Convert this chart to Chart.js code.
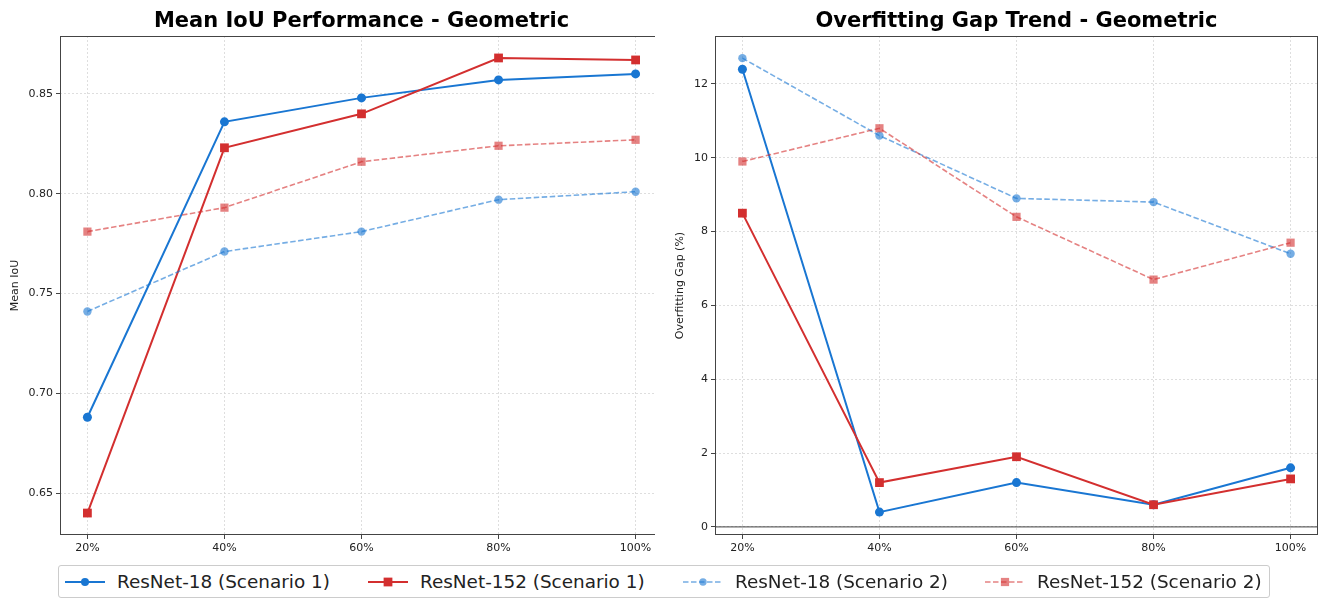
<!DOCTYPE html>
<html>
<head>
<meta charset="utf-8">
<script src="https://cdn.jsdelivr.net/npm/chart.js@4.4.1/dist/chart.umd.min.js"></script>
<style>
  html, body { margin: 0; padding: 0; background: #ffffff; }
  body { width: 1322px; height: 599px; position: relative; overflow: hidden; font-family: "DejaVu Sans", sans-serif; }
  canvas { position: absolute; top: 0; }
  #c1 { left: 0; }
  #c2 { left: 655px; }
  #legend { position: absolute; left: 58px; top: 565px; width: 1210px; height: 31px; border: 1px solid #cccccc; border-radius: 3px; background: #fff; }
  .item { position: absolute; top: 0; height: 31px; display: flex; align-items: center; font-size: 18.4px; color: #222; white-space: nowrap; }
  .item svg { margin-right: 12px; }
</style>
</head>
<body>
<canvas id="c1" width="665" height="560"></canvas>
<canvas id="c2" width="667" height="560"></canvas>
<div id="legend"></div>
<script>
// ---- data ----
const categories = ['20%', '40%', '60%', '80%', '100%'];
const trainFraction = [20, 40, 60, 80, 100];
const seriesNames = ['ResNet-18 (Scenario 1)', 'ResNet-152 (Scenario 1)', 'ResNet-18 (Scenario 2)', 'ResNet-152 (Scenario 2)'];

const iouR18S1  = [0.688, 0.836, 0.848, 0.857, 0.860];
const iouR152S1 = [0.640, 0.823, 0.840, 0.868, 0.867];
const iouR18S2  = [0.741, 0.771, 0.781, 0.797, 0.801];
const iouR152S2 = [0.781, 0.793, 0.816, 0.824, 0.827];

const gapR18S1  = [12.4, 0.4, 1.2, 0.6, 1.6];
const gapR152S1 = [8.5, 1.2, 1.9, 0.6, 1.3];
const gapR18S2  = [12.7, 10.6, 8.9, 8.8, 7.4];
const gapR152S2 = [9.9, 10.8, 8.4, 6.7, 7.7];

const iouTicks = [0.65, 0.70, 0.75, 0.80, 0.85];
const gapTicks = [0, 2, 4, 6, 8, 10, 12];

// ---- styles ----
const FONT = '"DejaVu Sans", sans-serif';
const styles = [
  { color: '#1976D2', dash: [], width: 2, point: 'circle', radius: 4.5 },
  { color: '#D32F2F', dash: [], width: 2, point: 'rect', radius: 6.2 },
  { color: 'rgba(25,118,210,0.6)', dash: [5.5, 2.5], width: 1.6, point: 'circle', radius: 4.2 },
  { color: 'rgba(211,47,47,0.6)', dash: [5.5, 2.5], width: 1.6, point: 'rect', radius: 5.8 }
];

function makeDatasets(seriesList) {
  return seriesList.map((vals, i) => {
    const s = styles[i];
    return {
      label: seriesNames[i],
      data: vals.map((v, k) => ({ x: trainFraction[k], y: v })),
      borderColor: s.color,
      backgroundColor: s.color,
      borderWidth: s.width,
      borderDash: s.dash,
      pointStyle: s.point,
      pointRadius: s.radius,
      pointBackgroundColor: s.color,
      pointBorderWidth: 0,
      tension: 0,
      order: 3 - i
    };
  });
}

const framePlugin = {
  id: 'frame',
  beforeDatasetsDraw(chart, args, opts) {
    if (opts.zeroLine) {
      const y = chart.scales.y.getPixelForValue(0);
      const a = chart.chartArea;
      const ctx = chart.ctx;
      ctx.save();
      ctx.strokeStyle = 'rgba(0,0,0,0.6)';
      ctx.lineWidth = 1.3;
      ctx.beginPath();
      ctx.moveTo(a.left, y);
      ctx.lineTo(a.right, y);
      ctx.stroke();
      ctx.restore();
    }
  },
  afterDatasetsDraw(chart) {
    const a = chart.chartArea;
    const ctx = chart.ctx;
    ctx.save();
    ctx.strokeStyle = '#444';
    ctx.lineWidth = 1;
    ctx.strokeRect(Math.round(a.left) + 0.5, Math.round(a.top) + 0.5, Math.round(a.right - a.left) - 1, Math.round(a.bottom - a.top) - 1);
    ctx.restore();
  }
};

const whiteBg = {
  id: 'whiteBg',
  beforeDraw(chart) {
    const ctx = chart.ctx;
    ctx.save();
    ctx.fillStyle = '#fff';
    ctx.fillRect(0, 0, chart.width, chart.height);
    ctx.restore();
  }
};

function makeChart(id, title, yTitle, seriesList, yTicks, yMin, yMax, yFmt, padLeft, yWidth, padRight, zeroLine) {
  return new Chart(document.getElementById(id), {
    type: 'line',
    data: { datasets: makeDatasets(seriesList) },
    plugins: [whiteBg, framePlugin],
    options: {
      responsive: false,
      animation: false,
      devicePixelRatio: 1,
      layout: { autoPadding: false, padding: { left: padLeft, right: padRight, top: 0, bottom: 0 } },
      plugins: {
        legend: { display: false },
        tooltip: { enabled: false },
        frame: { zeroLine: zeroLine },
        title: {
          display: true,
          text: title,
          fullSize: false,
          color: '#000',
          font: { family: FONT, size: 21, weight: 'bold', lineHeight: 1.2 },
          padding: { top: 9, bottom: 1.8 }
        }
      },
      scales: {
        x: {
          type: 'linear',
          min: 16,
          max: 104,
          afterBuildTicks(scale) { scale.ticks = trainFraction.map(v => ({ value: v })); },
          afterFit(scale) { scale.height = 25; scale.paddingLeft = 0; scale.paddingRight = 0; },
          ticks: {
            callback(v) { const k = trainFraction.indexOf(v); return k >= 0 ? categories[k] : ''; },
            color: '#222',
            font: { family: FONT, size: 11 },
            padding: 3,
            maxRotation: 0
          },
          grid: { color: '#d6d6d6', lineWidth: 0.8, tickColor: '#444', tickLength: 4, tickWidth: 1 },
          border: { display: false, dash: [2, 2] }
        },
        y: {
          type: 'linear',
          min: yMin,
          max: yMax,
          afterBuildTicks(scale) { scale.ticks = yTicks.map(v => ({ value: v })); },
          afterFit(scale) { scale.width = yWidth; scale.paddingTop = 0; scale.paddingBottom = 0; },
          ticks: {
            callback: yFmt,
            color: '#222',
            font: { family: FONT, size: 11 },
            padding: 3
          },
          title: {
            display: true,
            text: yTitle,
            color: '#222',
            font: { family: FONT, size: 11 },
            padding: { top: 4, bottom: 4 }
          },
          grid: { color: '#d6d6d6', lineWidth: 0.8, tickColor: '#444', tickLength: 4, tickWidth: 1 },
          border: { display: false, dash: [2, 2] }
        }
      }
    }
  });
}

makeChart('c1', 'Mean IoU Performance - Geometric', 'Mean IoU',
  [iouR18S1, iouR152S1, iouR18S2, iouR152S2], iouTicks, 0.629, 0.879,
  v => v.toFixed(2), 5, 55, 2, false);

makeChart('c2', 'Overfitting Gap Trend - Geometric', 'Overfitting Gap (%)',
  [gapR18S1, gapR152S1, gapR18S2, gapR152S2], gapTicks, -0.22, 13.3,
  v => String(Math.round(v)), 15, 45, 4, true);

// ---- legend (HTML) ----
const legendLeft = [6, 309, 624, 926];
const legend = document.getElementById('legend');
seriesNames.forEach((name, i) => {
  const s = styles[i];
  const item = document.createElement('div');
  item.className = 'item';
  item.style.left = legendLeft[i] + 'px';
  const marker = s.point === 'circle'
    ? `<circle cx="20" cy="8" r="${s.radius - 0.5}" fill="${s.color}"/>`
    : `<rect x="${20 - s.radius * 0.707}" y="${8 - s.radius * 0.707}" width="${s.radius * 1.414}" height="${s.radius * 1.414}" fill="${s.color}"/>`;
  item.innerHTML = `<svg width="40" height="16" viewBox="0 0 40 16">` +
    `<line x1="0" y1="8" x2="40" y2="8" stroke="${s.color}" stroke-width="${s.width}" stroke-dasharray="${s.dash.length ? s.dash.join(',') : 'none'}"/>` +
    marker + `</svg><span></span>`;
  item.querySelector('span').textContent = name;
  legend.appendChild(item);
});
</script>
</body>
</html>
